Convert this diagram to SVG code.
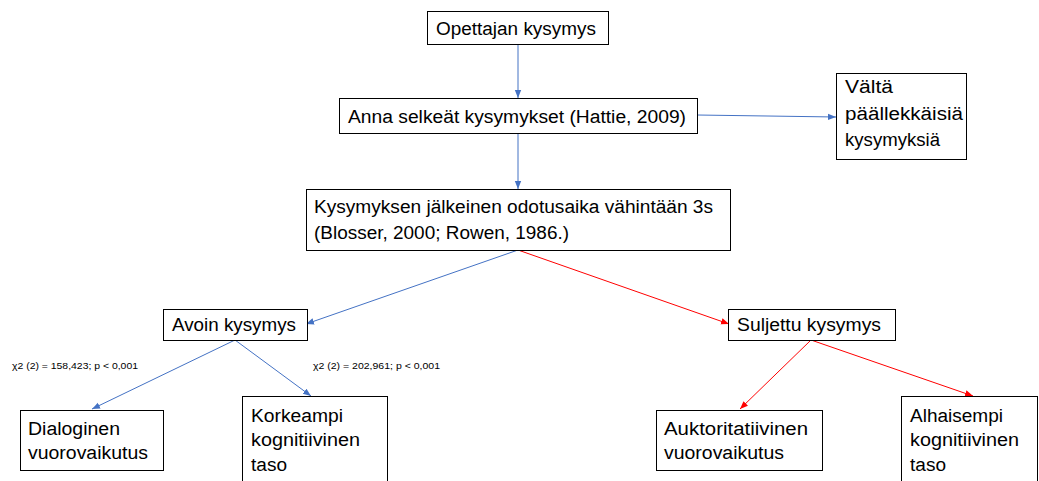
<svg xmlns="http://www.w3.org/2000/svg" width="1039" height="481" viewBox="0 0 1039 481">
<style>
.box{fill:#fff;stroke:#000;stroke-width:1}
.t{font-family:"Liberation Sans",Arial,sans-serif;font-size:18px;fill:#000}
.s{font-family:"Liberation Sans",Arial,sans-serif;font-size:9px;fill:#000}
.b{stroke:#4472C4;stroke-width:1;fill:none}
.r{stroke:#FF0000;stroke-width:1;fill:none}
</style>
<defs>
<marker id="ab" viewBox="0 0 10 10" refX="10" refY="5" markerWidth="8" markerHeight="8" markerUnits="userSpaceOnUse" orient="auto"><path d="M0,1 L10,5 L0,9 Z" fill="#4472C4"/></marker>
<marker id="ar" viewBox="0 0 10 10" refX="10" refY="5" markerWidth="8" markerHeight="8" markerUnits="userSpaceOnUse" orient="auto"><path d="M0,1 L10,5 L0,9 Z" fill="#FF0000"/></marker>
</defs>
<rect width="1039" height="481" fill="#fff"/>
<g id="connectors">
<line class="b" x1="518" y1="44" x2="518" y2="98" marker-end="url(#ab)"/>
<line class="b" x1="697" y1="115" x2="836" y2="117" marker-end="url(#ab)"/>
<line class="b" x1="518" y1="133" x2="518" y2="189" marker-end="url(#ab)"/>
<line class="b" x1="518" y1="250" x2="306" y2="324" marker-end="url(#ab)"/>
<line class="r" x1="518" y1="250" x2="729" y2="324" marker-end="url(#ar)"/>
<line class="b" x1="235" y1="340" x2="92" y2="409" marker-end="url(#ab)"/>
<line class="b" x1="235" y1="340" x2="311" y2="396" marker-end="url(#ab)"/>
<line class="r" x1="811" y1="340" x2="740" y2="409" marker-end="url(#ar)"/>
<line class="r" x1="811" y1="340" x2="973" y2="396" marker-end="url(#ar)"/>
</g>
<g id="n1"><rect class="box" x="427.5" y="11.5" width="181" height="33"/><text class="t" x="436" y="35" textLength="160" lengthAdjust="spacingAndGlyphs">Opettajan kysymys</text></g>
<g id="n2"><rect class="box" x="339.5" y="98.5" width="358" height="35"/><text class="t" x="348" y="123" textLength="338" lengthAdjust="spacingAndGlyphs">Anna selkeät kysymykset (Hattie, 2009)</text></g>
<g id="n3"><rect class="box" x="836.5" y="73.5" width="130" height="86"/><text class="t" x="845" y="93" textLength="48" lengthAdjust="spacingAndGlyphs">Vältä</text><text class="t" x="845" y="120" textLength="118" lengthAdjust="spacingAndGlyphs">päällekkäisiä</text><text class="t" x="845" y="146" textLength="95" lengthAdjust="spacingAndGlyphs">kysymyksiä</text></g>
<g id="n4"><rect class="box" x="306.5" y="189.5" width="424" height="61"/><text class="t" x="314" y="213" textLength="399" lengthAdjust="spacingAndGlyphs">Kysymyksen jälkeinen odotusaika vähintään 3s</text><text class="t" x="314" y="239" textLength="255" lengthAdjust="spacingAndGlyphs">(Blosser, 2000; Rowen, 1986.)</text></g>
<g id="n5"><rect class="box" x="163.5" y="309.5" width="144" height="31"/><text class="t" x="172" y="331" textLength="124" lengthAdjust="spacingAndGlyphs">Avoin kysymys</text></g>
<g id="n6"><rect class="box" x="728.5" y="309.5" width="167" height="31"/><text class="t" x="737" y="331" textLength="144" lengthAdjust="spacingAndGlyphs">Suljettu kysymys</text></g>
<g id="n7"><rect class="box" x="20.5" y="410.5" width="143" height="60"/><text class="t" x="28" y="435" textLength="92" lengthAdjust="spacingAndGlyphs">Dialoginen</text><text class="t" x="28" y="459" textLength="120" lengthAdjust="spacingAndGlyphs">vuorovaikutus</text></g>
<g id="n8"><rect class="box" x="242.5" y="396.5" width="145" height="90"/><text class="t" x="251" y="422" textLength="92" lengthAdjust="spacingAndGlyphs">Korkeampi</text><text class="t" x="251" y="446" textLength="109" lengthAdjust="spacingAndGlyphs">kognitiivinen</text><text class="t" x="251" y="471" textLength="36" lengthAdjust="spacingAndGlyphs">taso</text></g>
<g id="n9"><rect class="box" x="656.5" y="410.5" width="166" height="60"/><text class="t" x="664" y="435" textLength="144" lengthAdjust="spacingAndGlyphs">Auktoritatiivinen</text><text class="t" x="664" y="459" textLength="120" lengthAdjust="spacingAndGlyphs">vuorovaikutus</text></g>
<g id="n10"><rect class="box" x="901.5" y="396.5" width="136" height="90"/><text class="t" x="910" y="422" textLength="93" lengthAdjust="spacingAndGlyphs">Alhaisempi</text><text class="t" x="910" y="446" textLength="109" lengthAdjust="spacingAndGlyphs">kognitiivinen</text><text class="t" x="910" y="471" textLength="36" lengthAdjust="spacingAndGlyphs">taso</text></g>
<g id="labels">
<text class="s" x="12" y="369" textLength="126" lengthAdjust="spacingAndGlyphs">χ2 (2) = 158,423; p &lt; 0,001</text>
<text class="s" x="313" y="369" textLength="127" lengthAdjust="spacingAndGlyphs">χ2 (2) = 202,961; p &lt; 0,001</text>
</g>
</svg>
